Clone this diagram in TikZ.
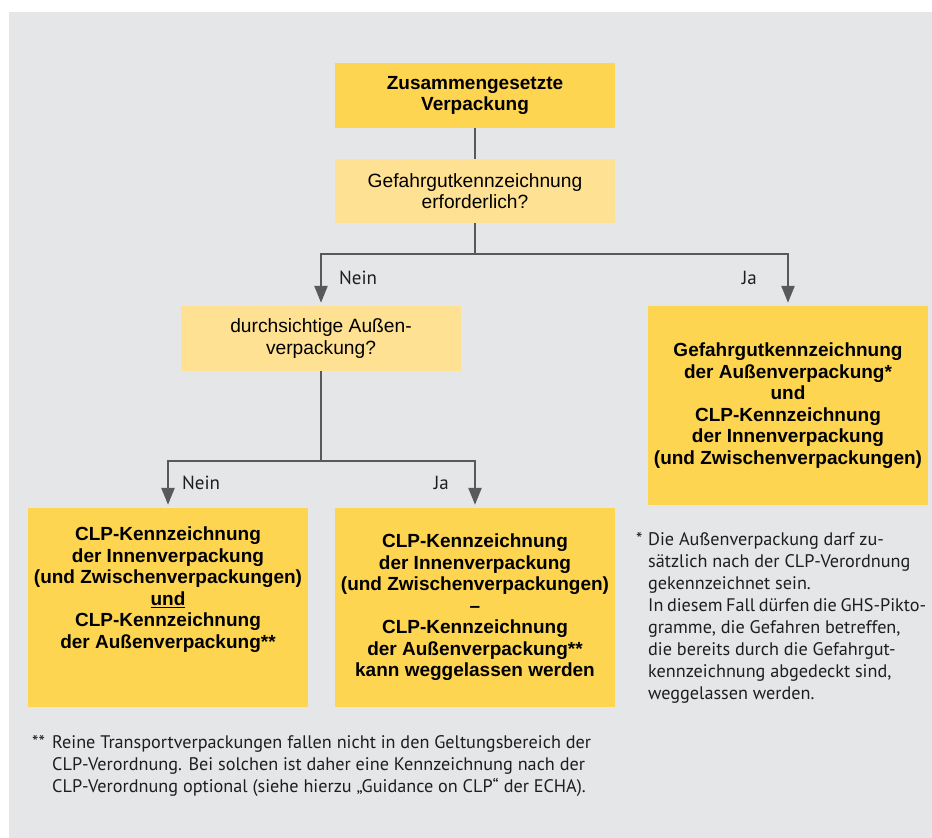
\documentclass[tikz,border=0pt]{standalone}
\usepackage{fontspec}
\setmainfont{Liberation Sans}
\newfontfamily\notefont{PT Sans}
\usetikzlibrary{arrows.meta,positioning}
\definecolor{bggray}{HTML}{E5E6E8}
\definecolor{boxdark}{HTML}{FED550}
\definecolor{boxlight}{HTML}{FEE192}
\definecolor{linegray}{HTML}{58595B}
\definecolor{notetext}{HTML}{1E1E1E}
\begin{document}
\begin{tikzpicture}[x=1pt,y=-1pt,
    darkbox/.style={fill=boxdark, minimum width=280pt, align=center, inner sep=0pt,
      font=\fontsize{19}{21.5}\selectfont\bfseries},
    lightbox/.style={fill=boxlight, minimum width=280pt, minimum height=64pt, align=center,
      inner sep=0pt, font=\fontsize{19.2}{21.5}\selectfont},
    conn/.style={linegray, line width=2.5pt},
    arrow/.style={conn, -{Triangle[length=17pt,width=13pt]}, shorten >=3pt},
    answer/.style={notetext, inner sep=0pt, font=\notefont\fontsize{19}{20}\selectfont},
    note/.style={notetext, inner sep=0pt, anchor=north west,
      font=\notefont\fontsize{18.2}{22}\selectfont}]
  \useasboundingbox (0,0) rectangle (932,838);
  \fill[bggray] (9,12) rectangle (932,838);

  % boxes
  \node[darkbox, minimum height=65pt] (paket) at (475,95.5) {Zusammengesetzte\\Verpackung};
  \node[lightbox] (gefahr) at (475,191) {Gefahrgutkennzeichnung\\erforderlich?};
  \node[lightbox, minimum height=65pt] (durchsicht) at (321,338.5) {durchsichtige Außen-\\verpackung?};
  \node[darkbox, minimum height=199pt] (gefahrja) at (788,405.5)
    {Gefahrgutkennzeichnung\\der Außenverpackung*\\und\\CLP-Kennzeichnung\\der Innenverpackung\\(und Zwischenverpackungen)};
  \node[darkbox, minimum height=199pt] (clpbeide) at (168,607.5)
    {CLP-Kennzeichnung\\der Innenverpackung\\(und Zwischenverpackungen)\\\underline{und}\\CLP-Kennzeichnung\\der Außenverpackung**\\[18pt]\mbox{}};
  \node[darkbox, minimum height=199pt] (clpinnen) at (475,607.5)
    {CLP-Kennzeichnung\\der Innenverpackung\\(und Zwischenverpackungen)\\--\\CLP-Kennzeichnung\\der Außenverpackung**\\kann weggelassen werden};

  % connectors
  \coordinate (gabel1) at (475,254);
  \coordinate (gabel2) at (321,461);
  \draw[conn] (paket) -- (gefahr);
  \draw[conn] (gefahr) -- (gabel1);
  \draw[arrow] (gabel1) -| (durchsicht.north);
  \draw[arrow] (gabel1) -| (gefahrja.north);
  \draw[conn] (durchsicht) -- (gabel2);
  \draw[arrow] (gabel2) -| (clpbeide.north);
  \draw[arrow] (gabel2) -| (clpinnen.north);

  % answers
  \node[answer, anchor=west] (neinoben) at (339,278) {Nein};
  \node[answer, anchor=east] (jaoben) at (757,278) {Ja};
  \node[answer, anchor=west] (neinunten) at (182,483) {Nein};
  \node[answer, anchor=east] (jaunten) at (449,483) {Ja};

  % footnotes
  \node[note] (stern) at (636,532) {\parbox[t]{290pt}{\hangindent=12pt\hangafter=1
    \makebox[12pt][l]{*}Die Außenverpackung darf zu-\\
    sätzlich nach der CLP-Verordnung\\
    gekennzeichnet sein.\\
    In diesem Fall dürfen die GHS-Pikto-\\
    gramme, die Gefahren betreffen,\\
    die bereits durch die Gefahrgut-\\
    kennzeichnung abgedeckt sind,\\
    weggelassen werden.}};
  \node[note] (sternstern) at (32,735) {\parbox[t]{620pt}{\hangindent=20pt\hangafter=1
    \makebox[20pt][l]{**}Reine Transportverpackungen fallen nicht in den Geltungsbereich der\\
    CLP-Verordnung. Bei solchen ist daher eine Kennzeichnung nach der\\
    CLP-Verordnung optional (siehe hierzu „Guidance on CLP“ der ECHA).}};
\end{tikzpicture}
\end{document}
